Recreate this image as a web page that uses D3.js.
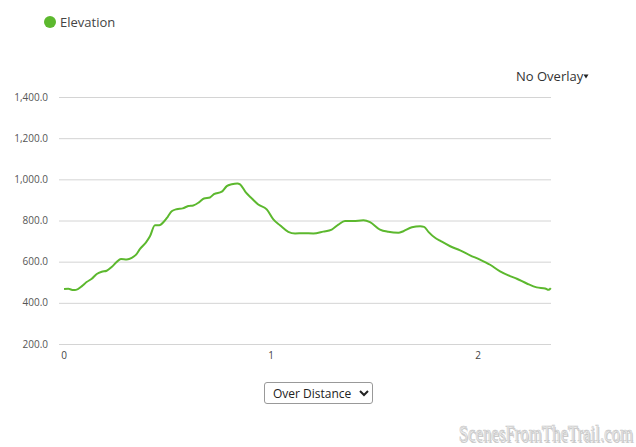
<!DOCTYPE html>
<html>
<head>
<meta charset="utf-8">
<script src="https://cdn.jsdelivr.net/npm/d3@7"></script>
<style>
  html, body { margin: 0; padding: 0; background: #fff; }
  body { width: 636px; height: 447px; position: relative; overflow: hidden; font-family: "Open Sans", "Noto Sans", sans-serif; }
  #chart { position: absolute; left: 0; top: 0; }
  select { position: absolute; left: 264px; top: 382px; width: 109px; height: 22px; font-family: "Open Sans", sans-serif; font-size: 12px; color: #222; background: #fff; border: 1px solid #999; border-radius: 3px; padding-left: 4px; }
</style>
</head>
<body>
<svg id="chart"></svg>
<select><option>Over Distance</option></select>
<script>
// distance in miles, elevation in feet
const distance = [0.005, 0.026, 0.05, 0.063, 0.09, 0.114, 0.139, 0.163, 0.187, 0.211, 0.235, 0.259, 0.28, 0.308, 0.332, 0.353, 0.372, 0.401, 0.42, 0.444, 0.465, 0.488, 0.506, 0.525, 0.549, 0.578, 0.605, 0.629, 0.658, 0.681, 0.71, 0.729, 0.767, 0.791, 0.815, 0.842, 0.855, 0.884, 0.912, 0.943, 0.984, 1.016, 1.048, 1.088, 1.121, 1.161, 1.209, 1.257, 1.298, 1.33, 1.362, 1.402, 1.451, 1.483, 1.531, 1.571, 1.62, 1.644, 1.685, 1.725, 1.744, 1.765, 1.797, 1.821, 1.87, 1.918, 1.966, 2.014, 2.063, 2.111, 2.159, 2.192, 2.24, 2.288, 2.329, 2.345, 2.356]
const elevation = [467, 468, 462, 463, 480, 501, 517, 540, 551, 556, 574, 598, 613, 611, 618, 634, 662, 694, 723, 777, 777, 795, 818, 845, 855, 859, 870, 873, 889, 907, 912, 928, 940, 967, 976, 980, 976, 935, 907, 878, 854, 805, 777, 745, 737, 738, 737, 746, 756, 780, 797, 797, 801, 792, 756, 745, 740, 748, 767, 772, 769, 745, 716, 702, 675, 655, 631, 610, 585, 553, 530, 517, 494, 475, 470, 463, 472]
const xTicks = [0, 1, 2]
const yTicks = [200, 400, 600, 800, 1000, 1200, 1400]
const seriesName = "Elevation"

const width = 636, height = 447
const svg = d3.select("#chart").attr("width", width).attr("height", height)

const x = d3.scaleLinear().domain([0, 2.357]).range([63, 551])
const y = d3.scaleLinear().domain([200, 1400]).range([344, 97])
const green = "#5cb82e"

// legend
svg.append("circle").attr("cx", 50).attr("cy", 22).attr("r", 6).attr("fill", green)
svg.append("text").attr("x", 60).attr("y", 27).attr("font-size", 13).attr("fill", "#444").text(seriesName)

// overlay menu
svg.append("text").attr("x", 516).attr("y", 81).attr("font-size", 13).attr("fill", "#333").text("No Overlay")
svg.append("path").attr("d", "M583.5,74.5 L588.5,74.5 L586,78.5 Z").attr("fill", "#222")

// grid + y labels
const yAxis = svg.append("g")
yAxis.selectAll("line").data(yTicks).enter().append("line")
  .attr("x1", 59).attr("x2", 551)
  .attr("y1", d => y(d) + 0.5).attr("y2", d => y(d) + 0.5)
  .attr("stroke", "#d4d4d4").attr("stroke-width", 1)
yAxis.selectAll("text").data(yTicks).enter().append("text")
  .attr("x", 48).attr("y", d => y(d) + 3.5)
  .attr("text-anchor", "end").attr("font-size", 10).attr("fill", "#555")
  .text(d => d3.format(",.1f")(d))

// x labels
svg.append("g").selectAll("text").data(xTicks).enter().append("text")
  .attr("x", d => x(d) + 1).attr("y", 359)
  .attr("text-anchor", "middle").attr("font-size", 10).attr("fill", "#444")
  .text(d => d)

// elevation line
const pts = distance.map((d, i) => [d, elevation[i]])
svg.append("path").datum(pts)
  .attr("fill", "none").attr("stroke", green).attr("stroke-width", 2)
  .attr("stroke-linejoin", "round")
  .attr("d", d3.line().x(d => x(d[0])).y(d => y(d[1])).curve(d3.curveMonotoneX))

// watermark
const wm = svg.append("g").attr("transform", "translate(633,441) scale(0.7,1)")
wm.append("text").attr("x", 1.5).attr("y", 1.5).attr("text-anchor", "end")
  .attr("font-family", "Liberation Serif").attr("font-size", 24).attr("fill", "#aaa").attr("opacity", 0.6)
  .text("ScenesFromTheTrail.com")
wm.append("text").attr("text-anchor", "end")
  .attr("font-family", "Liberation Serif").attr("font-size", 24).attr("fill", "#ececec")
  .attr("stroke", "#c4c4c4").attr("stroke-width", 0.6)
  .text("ScenesFromTheTrail.com")
</script>
</body>
</html>
